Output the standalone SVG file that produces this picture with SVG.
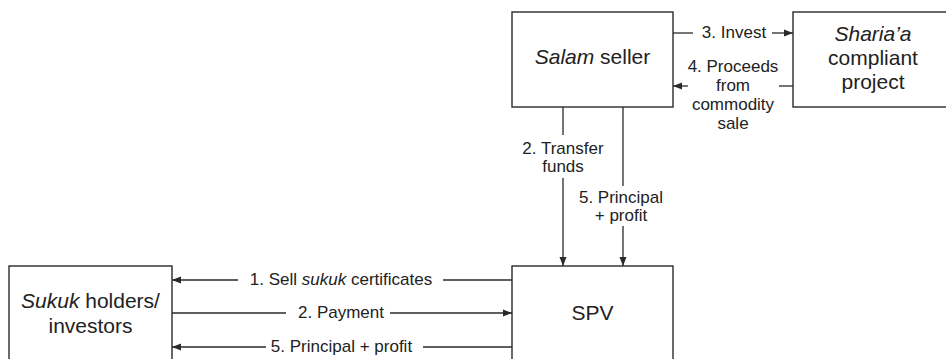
<svg xmlns="http://www.w3.org/2000/svg" width="946" height="359" viewBox="0 0 946 359">
  <style>
    .box { fill: #ffffff; stroke: #2a2a2a; stroke-width: 1.4; }
    .node { font-family: "Liberation Sans", Arial, sans-serif; font-size: 21px; fill: #222222; text-anchor: middle; }
    .lbl { font-family: "Liberation Sans", Arial, sans-serif; font-size: 17px; fill: #222222; text-anchor: middle; }
    .ln { fill: none; stroke: #2a2a2a; stroke-width: 1.3; }
    .arr { fill: none; stroke: #2a2a2a; stroke-width: 1.3; marker-end: url(#head); }
  </style>
  <defs>
    <marker id="head" markerUnits="userSpaceOnUse" markerWidth="10" markerHeight="8" refX="9" refY="4" orient="auto">
      <path d="M0,0.5 L9,4 L0,7.5 z" fill="#2a2a2a"/>
    </marker>
  </defs>

  <!-- nodes -->
  <g id="salam-seller">
    <rect class="box" x="512" y="12" width="161" height="95"/>
    <text class="node" x="592.5" y="64"><tspan font-style="italic">Salam</tspan> seller</text>
  </g>
  <g id="sharia-project">
    <rect class="box" x="793" y="12" width="161" height="95"/>
    <text class="node" x="873" y="41" font-style="italic">Sharia’a</text>
    <text class="node" x="873" y="65">compliant</text>
    <text class="node" x="873" y="89">project</text>
  </g>
  <g id="spv">
    <rect class="box" x="512" y="266" width="161" height="110"/>
    <text class="node" x="592.5" y="320">SPV</text>
  </g>
  <g id="sukuk-holders">
    <rect class="box" x="9" y="266" width="163" height="110"/>
    <text class="node" x="90.5" y="308"><tspan font-style="italic">Sukuk</tspan> holders/</text>
    <text class="node" x="90.5" y="333">investors</text>
  </g>

  <!-- connectors -->
  <g id="connectors">
    <!-- 3. Invest -->
    <line class="ln" x1="673" y1="33" x2="693" y2="33"/>
    <line class="arr" x1="772" y1="33" x2="793" y2="33"/>
    <text class="lbl" x="734" y="38">3. Invest</text>

    <!-- 4. Proceeds from commodity sale -->
    <line class="arr" x1="688" y1="86" x2="673" y2="86"/>
    <line class="ln" x1="779" y1="86" x2="793" y2="86"/>
    <text class="lbl" x="733" y="72">4. Proceeds</text>
    <text class="lbl" x="733" y="91">from</text>
    <text class="lbl" x="733" y="110">commodity</text>
    <text class="lbl" x="733" y="129">sale</text>

    <!-- 2. Transfer funds -->
    <line class="ln" x1="563" y1="107" x2="563" y2="135"/>
    <line class="arr" x1="563" y1="178" x2="563" y2="266"/>
    <text class="lbl" x="563" y="154">2. Transfer</text>
    <text class="lbl" x="563" y="172">funds</text>

    <!-- 5. Principal + profit (seller to SPV) -->
    <line class="ln" x1="623" y1="107" x2="623" y2="186"/>
    <line class="arr" x1="623" y1="226" x2="623" y2="266"/>
    <text class="lbl" x="621" y="203">5. Principal</text>
    <text class="lbl" x="621" y="221">+ profit</text>

    <!-- 1. Sell sukuk certificates -->
    <line class="arr" x1="238" y1="280" x2="172" y2="280"/>
    <line class="ln" x1="443" y1="280" x2="512" y2="280"/>
    <text class="lbl" x="341" y="285">1. Sell <tspan font-style="italic">sukuk</tspan> certificates</text>

    <!-- 2. Payment -->
    <line class="ln" x1="172" y1="313" x2="286" y2="313"/>
    <line class="arr" x1="390" y1="313" x2="512" y2="313"/>
    <text class="lbl" x="341" y="318">2. Payment</text>

    <!-- 5. Principal + profit (SPV to holders) -->
    <line class="arr" x1="266" y1="347" x2="172" y2="347"/>
    <line class="ln" x1="423" y1="347" x2="512" y2="347"/>
    <text class="lbl" x="341.5" y="352">5. Principal + profit</text>
  </g>
</svg>
